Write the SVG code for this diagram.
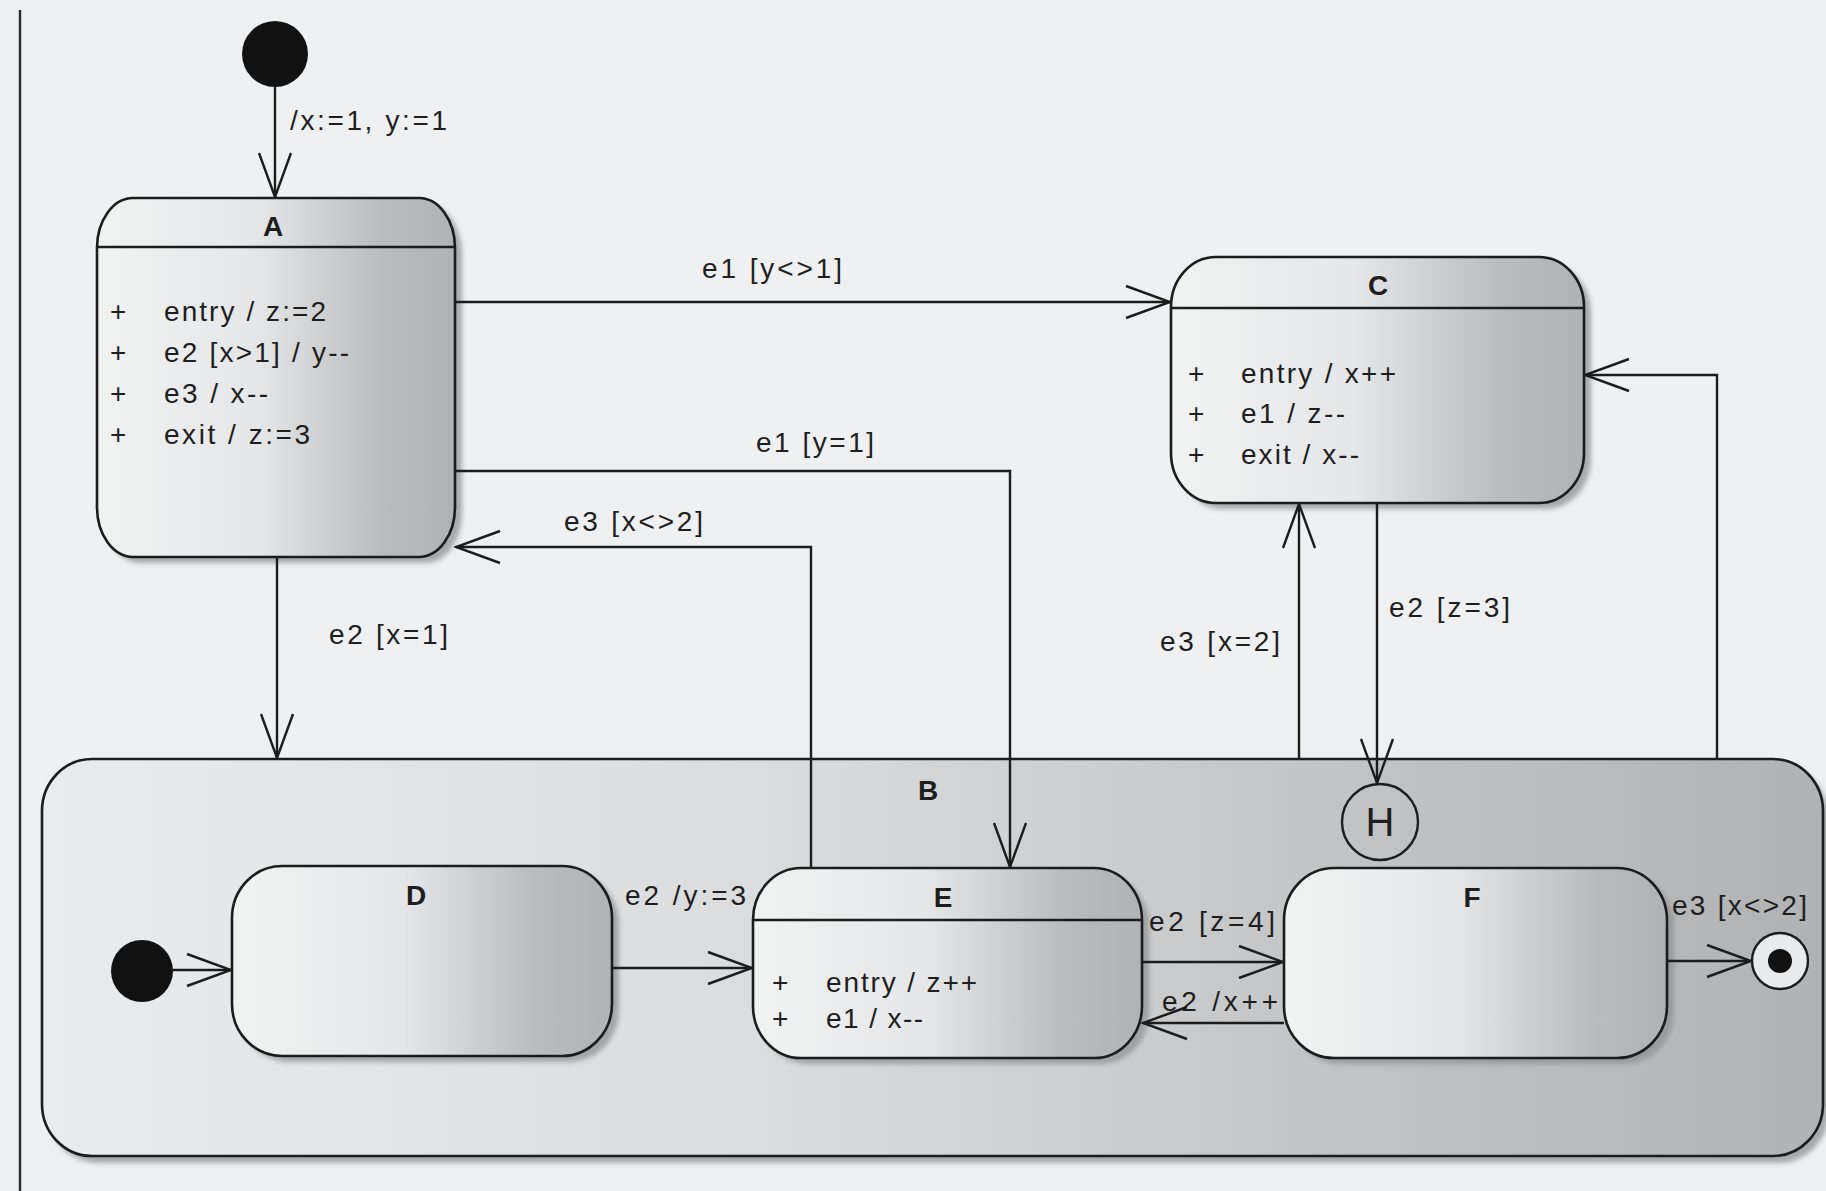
<svg xmlns="http://www.w3.org/2000/svg" width="1826" height="1191" viewBox="0 0 1826 1191">
<style>
  text { font-family: "Liberation Sans", Arial, sans-serif; fill: #1e1e1e; }
  .lbl { font-size: 28px; }
  .txt { font-size: 28px; }
  .name { font-size: 28px; font-weight: bold; text-anchor: middle; }
  .box { stroke: #1c1c1c; stroke-width: 2.6; }
  .sep { stroke: #1c1c1c; stroke-width: 2.4; }
  .shadow { fill: #8f9192; opacity: 0.75; filter: url(#blur); }
  .conn { fill: none; stroke: #1c1c1c; stroke-width: 2.4; marker-end: url(#arrow); }
</style>
<defs>
  <linearGradient id="nodeGrad" x1="0" y1="0" x2="1" y2="0">
    <stop offset="0" stop-color="#f1f3f3"/>
    <stop offset="0.45" stop-color="#e4e6e7"/>
    <stop offset="0.8" stop-color="#b9bbbc"/>
    <stop offset="1" stop-color="#b0b2b3"/>
  </linearGradient>
  <linearGradient id="bGrad" x1="0" y1="0" x2="1" y2="0">
    <stop offset="0" stop-color="#e9ebec"/>
    <stop offset="0.4" stop-color="#dadcdd"/>
    <stop offset="0.75" stop-color="#c0c2c3"/>
    <stop offset="1" stop-color="#b0b2b3"/>
  </linearGradient>
  <filter id="blur" x="-5%" y="-5%" width="110%" height="110%">
    <feGaussianBlur stdDeviation="2.5"/>
  </filter>
  <marker id="arrow" viewBox="0 0 48 36" refX="46" refY="18" markerWidth="48" markerHeight="36" markerUnits="userSpaceOnUse" orient="auto">
    <path d="M2,2 L46,18 L2,34" fill="none" stroke="#1c1c1c" stroke-width="2.4"/>
  </marker>
</defs>

<rect x="0" y="0" width="1826" height="1191" fill="#eef0f1"/>
<line x1="20" y1="10" x2="20" y2="1191" stroke="#2a2a2a" stroke-width="2.4"/>

<g id="node-B">
  <rect class="shadow" x="48" y="766" width="1781" height="397" rx="50" ry="52"/>
  <rect class="box" x="42" y="759" width="1781" height="397" rx="50" ry="52" fill="url(#bGrad)"/>
  <text class="name" x="928" y="800">B</text>
</g>

<g id="node-A">
  <rect class="shadow" x="104" y="204" width="358" height="359" rx="36" ry="50"/>
  <rect class="box" x="97" y="198" width="358" height="359" rx="36" ry="50" fill="url(#nodeGrad)"/>
  <line class="sep" x1="97" y1="247" x2="455" y2="247"/>
  <text class="name" x="273" y="236">A</text>
  <text class="txt" x="110" y="321">+</text>
  <text class="txt" x="164" y="321" textLength="162" lengthAdjust="spacing">entry / z:=2</text>
  <text class="txt" x="110" y="362">+</text>
  <text class="txt" x="164" y="362" textLength="185" lengthAdjust="spacing">e2 [x&gt;1] / y--</text>
  <text class="txt" x="110" y="403">+</text>
  <text class="txt" x="164" y="403" textLength="104" lengthAdjust="spacing">e3 / x--</text>
  <text class="txt" x="110" y="444">+</text>
  <text class="txt" x="164" y="444" textLength="146" lengthAdjust="spacing">exit / z:=3</text>
</g>

<g id="node-C">
  <rect class="shadow" x="1178" y="263" width="413" height="246" rx="45" ry="50"/>
  <rect class="box" x="1171" y="257" width="413" height="246" rx="45" ry="50" fill="url(#nodeGrad)"/>
  <line class="sep" x1="1171" y1="308" x2="1584" y2="308"/>
  <text class="name" x="1378" y="295">C</text>
  <text class="txt" x="1188" y="383">+</text>
  <text class="txt" x="1241" y="383" textLength="155" lengthAdjust="spacing">entry / x++</text>
  <text class="txt" x="1188" y="423">+</text>
  <text class="txt" x="1241" y="423" textLength="104" lengthAdjust="spacing">e1 / z--</text>
  <text class="txt" x="1188" y="464">+</text>
  <text class="txt" x="1241" y="464" textLength="118" lengthAdjust="spacing">exit / x--</text>
</g>

<g id="node-D">
  <rect class="shadow" x="239" y="872" width="380" height="190" rx="50" ry="52"/>
  <rect class="box" x="232" y="866" width="380" height="190" rx="50" ry="52" fill="url(#nodeGrad)"/>
  <text class="name" x="416" y="905">D</text>
</g>

<g id="node-E">
  <rect class="shadow" x="760" y="874" width="389" height="190" rx="48" ry="52"/>
  <rect class="box" x="753" y="868" width="389" height="190" rx="48" ry="52" fill="url(#nodeGrad)"/>
  <line class="sep" x1="753" y1="920" x2="1142" y2="920"/>
  <text class="name" x="943" y="907">E</text>
  <text class="txt" x="772" y="992">+</text>
  <text class="txt" x="826" y="992" textLength="151" lengthAdjust="spacing">entry / z++</text>
  <text class="txt" x="772" y="1028">+</text>
  <text class="txt" x="826" y="1028" textLength="97" lengthAdjust="spacing">e1 / x--</text>
</g>

<g id="node-F">
  <rect class="shadow" x="1291" y="874" width="383" height="190" rx="50" ry="52"/>
  <rect class="box" x="1284" y="868" width="383" height="190" rx="50" ry="52" fill="url(#nodeGrad)"/>
  <text class="name" x="1472" y="907">F</text>
</g>

<g id="node-H">
  <circle cx="1380" cy="822" r="38" fill="none" stroke="#1c1c1c" stroke-width="2.4"/>
  <text x="1380" y="836" font-size="40" text-anchor="middle">H</text>
</g>

<g id="initial-top">
  <circle cx="275" cy="54" r="33" fill="#111"/>
</g>

<g id="initial-B">
  <circle cx="142" cy="971" r="31" fill="#111"/>
</g>

<g id="final">
  <circle cx="1780" cy="961" r="28" fill="#e8eaeb" stroke="#1c1c1c" stroke-width="2.4"/>
  <circle cx="1780" cy="961" r="12" fill="#111"/>
</g>

<g id="connectors">
  <path class="conn" d="M275,87 L275,197"/>
  <text class="lbl" x="290" y="130" textLength="157" lengthAdjust="spacing">/x:=1, y:=1</text>

  <path class="conn" d="M455,302 L1170,302"/>
  <text class="lbl" x="702" y="278" textLength="140" lengthAdjust="spacing">e1 [y&lt;&gt;1]</text>

  <path class="conn" d="M455,471 L1010,471 L1010,867"/>
  <text class="lbl" x="756" y="452" textLength="118" lengthAdjust="spacing">e1 [y=1]</text>

  <path class="conn" d="M811,868 L811,547 L456,547"/>
  <text class="lbl" x="564" y="531" textLength="139" lengthAdjust="spacing">e3 [x&lt;&gt;2]</text>

  <path class="conn" d="M277,557 L277,758"/>
  <text class="lbl" x="329" y="644" textLength="119" lengthAdjust="spacing">e2 [x=1]</text>

  <path class="conn" d="M1299,759 L1299,504"/>
  <text class="lbl" x="1160" y="651" textLength="120" lengthAdjust="spacing">e3 [x=2]</text>

  <path class="conn" d="M1377,503 L1377,783"/>
  <text class="lbl" x="1389" y="617" textLength="121" lengthAdjust="spacing">e2 [z=3]</text>

  <path class="conn" d="M1717,759 L1717,375 L1585,375"/>

  <path class="conn" d="M173,970 L231,970"/>

  <path class="conn" d="M612,968 L752,968"/>
  <text class="lbl" x="625" y="905" textLength="121" lengthAdjust="spacing">e2 /y:=3</text>

  <path class="conn" d="M1142,962 L1283,962"/>
  <text class="lbl" x="1149" y="931" textLength="126" lengthAdjust="spacing">e2 [z=4]</text>

  <path class="conn" d="M1284,1023 L1143,1023"/>
  <text class="lbl" x="1162" y="1011" textLength="116" lengthAdjust="spacing">e2 /x++</text>

  <path class="conn" d="M1667,961 L1751,961"/>
  <text class="lbl" x="1672" y="915" textLength="135" lengthAdjust="spacing">e3 [x&lt;&gt;2]</text>
</g>
</svg>
